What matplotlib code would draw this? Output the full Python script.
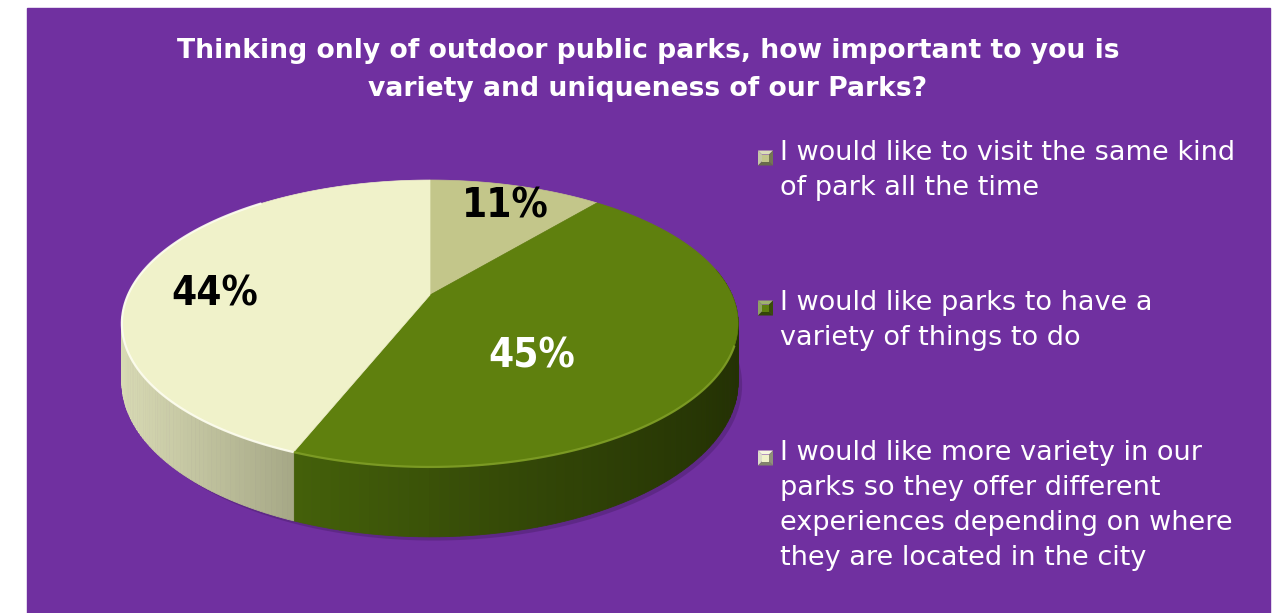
import matplotlib.pyplot as plt
import matplotlib.colors as mcolors
import numpy as np
from matplotlib.patches import Polygon, Rectangle

# data
labels = ["I would like to visit the same kind\nof park all the time",
          "I would like parks to have a\nvariety of things to do",
          "I would like more variety in our\nparks so they offer different\nexperiences depending on where\nthey are located in the city"]
values = [11, 45, 44]
pct_text = ["11%", "45%", "44%"]
title = "Thinking only of outdoor public parks, how important to you is\nvariety and uniqueness of our Parks?"

top_colors = ["#c3c68a", "#5f800e", "#f0f2ca"]
side_left = ["#b5b88a", "#44600a", "#d8dab4"]
side_right = ["#8e9064", "#243204", "#a6a886"]
rim_colors = ["#d8dab0", "#7f9e26", "#fdfdf0"]
pct_colors = ["black", "white", "black"]

purple = "#7030a0"

fig = plt.figure(figsize=(12.77, 6.13), dpi=100)
ax = fig.add_axes([0, 0, 1, 1])
ax.set_xlim(0, 1277)
ax.set_ylim(613, 0)
ax.axis("off")

ax.add_patch(Rectangle((27, 8), 1243, 605, color=purple, zorder=0))

# pie geometry (pixels), simple perspective of a tilted disc
cx, cy = 430, 295
A, B, p = 302, 137.8, 0.1986
H = 56


def proj(alpha, depth=0.0, r=1.0):
    X = r * np.sin(alpha)
    Y = r * np.cos(alpha)
    w = 1 + p * Y
    return cx + A * X / w, cy - B * Y / w + depth / w


cum = np.cumsum([0] + values) / 100.0 * 2 * np.pi
vis_lo, vis_hi = np.radians(79), np.radians(281)

# soft shadow
sh = np.linspace(0, 2 * np.pi, 200)
sx, sy = proj(sh, H + 3)
ax.add_patch(Polygon(np.c_[sx + 4, sy], closed=True, color="#4a1f6a", alpha=0.45, zorder=1, lw=0))

# side walls, shaded left to right
for i in range(len(values)):
    a0, a1 = max(cum[i], vis_lo), min(cum[i + 1], vis_hi)
    if a1 <= a0:
        continue
    n = 80
    ts = np.linspace(a0, a1, n + 1)
    xs_all, _ = proj(ts)
    xmin, xmax = xs_all.min(), xs_all.max()
    c_l = np.array(mcolors.to_rgb(side_left[i]))
    c_r = np.array(mcolors.to_rgb(side_right[i]))
    for j in range(n):
        t = np.linspace(ts[j], ts[j + 1], 4)
        xt, yt = proj(t)
        xb, yb = proj(t, H)
        poly = np.r_[np.c_[xt, yt], np.c_[xb, yb][::-1]]
        f = np.clip((xt.mean() - xmin) / (xmax - xmin), 0, 1)
        col = c_l * (1 - f) + c_r * f
        ax.add_patch(Polygon(poly, closed=True, facecolor=col, edgecolor=col, lw=0.6, zorder=2))

# top faces
for i in range(len(values)):
    t = np.linspace(cum[i], cum[i + 1], 120)
    xt, yt = proj(t)
    poly = np.r_[[[cx, cy]], np.c_[xt, yt]]
    ax.add_patch(Polygon(poly, closed=True, facecolor=top_colors[i], edgecolor=top_colors[i], lw=0.5, zorder=3))

# light rim on the visible top edge
for i in range(len(values)):
    a0, a1 = max(cum[i], np.radians(110)), min(cum[i + 1], np.radians(320))
    if a1 <= a0:
        continue
    rim = np.linspace(a0, a1, 100)
    rx, ry = proj(rim)
    ax.plot(rx, ry, color=rim_colors[i], lw=1.6, alpha=0.9, zorder=4, solid_capstyle="butt")

# percentage labels
lab_r = [0.785, 0.516, 0.712]
lab_shift = np.radians([1.4, 22.5, -10.8])
for i in range(len(values)):
    mid = (cum[i] + cum[i + 1]) / 2 + lab_shift[i]
    lx, ly = proj(mid, r=lab_r[i])
    ax.text(lx, ly, pct_text[i], color=pct_colors[i],
            fontsize=29, fontweight="bold", fontstretch="condensed", ha="center", va="center",
            family=["DejaVu Sans"], zorder=5)

# title
ax.text(648, 70, title, color="white", fontsize=19.2, fontweight="bold",
        ha="center", va="center", linespacing=1.6, family="DejaVu Sans", zorder=5)

# legend with bevelled markers
leg_y = [158, 308, 458]
for i in range(len(labels)):
    y = leg_y[i]
    x0, s, b = 758, 15, 4
    top = np.array(mcolors.to_rgb(top_colors[i]))
    light = np.clip(top * 0.6 + 0.4, 0, 1)
    dark = top * 0.6
    o = [(x0, y - s / 2), (x0 + s, y - s / 2), (x0 + s, y + s / 2), (x0, y + s / 2)]
    inn = [(x0 + b, y - s / 2 + b), (x0 + s - b, y - s / 2 + b), (x0 + s - b, y + s / 2 - b), (x0 + b, y + s / 2 - b)]
    faces = [([o[0], o[1], inn[1], inn[0]], light),
             ([o[0], inn[0], inn[3], o[3]], light * 0.9),
             ([o[1], o[2], inn[2], inn[1]], dark),
             ([o[3], inn[3], inn[2], o[2]], dark * 0.9)]
    for poly, col in faces:
        ax.add_patch(Polygon(poly, closed=True, facecolor=col, edgecolor="none", zorder=5))
    ax.add_patch(Polygon(inn, closed=True, facecolor=top, edgecolor="none", zorder=6))
    ax.text(780, y - 18, labels[i], color="white", fontsize=19.5, ha="left", va="top",
            linespacing=1.45, family="DejaVu Sans", zorder=5)

fig.savefig("out.png", dpi=100, facecolor="white")
